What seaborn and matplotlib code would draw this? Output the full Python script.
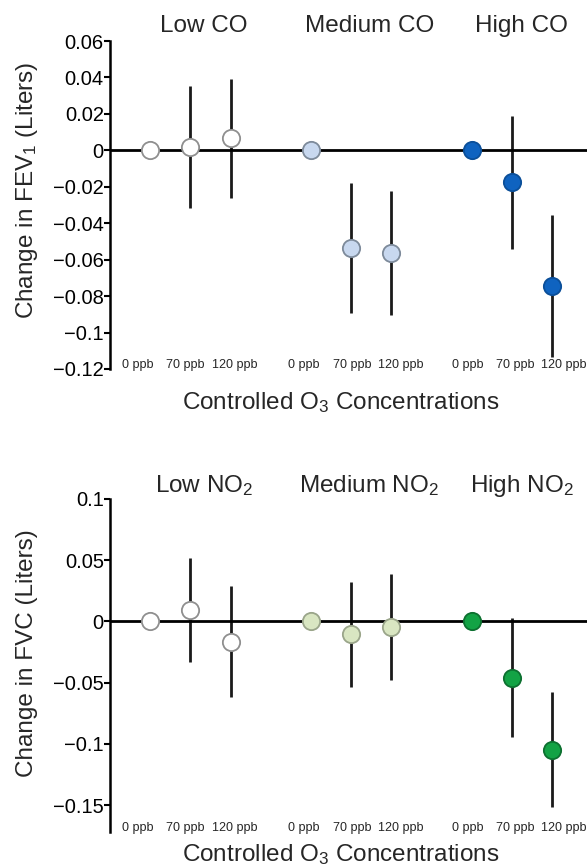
import numpy as np
import pandas as pd
import matplotlib
matplotlib.use("Agg")
import matplotlib.pyplot as plt
import matplotlib.transforms as mtransforms
import seaborn as sns

# ---------------- data ----------------
doses = ["0 ppb", "70 ppb", "120 ppb"]
levels = ["Low", "Medium", "High"]

fev1_mean = [0.0, 0.002, 0.0065, 0.0, -0.0535, -0.0565, 0.0, -0.0175, -0.0745]
fev1_err = [0.0, 0.0335, 0.0325, 0.0, 0.0355, 0.034, 0.0, 0.0365, 0.039]
fvc_mean = [0.0, 0.0095, -0.0165, 0.0, -0.0105, -0.0045, 0.0, -0.046, -0.105]
fvc_err = [0.0, 0.0425, 0.045, 0.0, 0.043, 0.0433, 0.0, 0.0485, 0.047]

fev1_titles = ["Low CO", "Medium CO", "High CO"]
fvc_titles = ["Low NO$_2$", "Medium NO$_2$", "High NO$_2$"]

fev1_yticks = [0.06, 0.04, 0.02, 0, -0.02, -0.04, -0.06, -0.08, -0.1, -0.12]
fev1_yticklabels = ["0.06", "0.04", "0.02", "0", "\u22120.02", "\u22120.04",
                    "\u22120.06", "\u22120.08", "\u22120.1", "\u22120.12"]
fvc_yticks = [0.1, 0.05, 0, -0.05, -0.1, -0.15]
fvc_yticklabels = ["0.1", "0.05", "0", "\u22120.05", "\u22120.1", "\u22120.15"]

fev1_face = ["#ffffff", "#c8d8ef", "#0f63c0"]
fev1_edge = ["#8f8f8f", "#7d8a9a", "#0b4f99"]
fvc_face = ["#ffffff", "#d9e6c2", "#13a345"]
fvc_edge = ["#8f8f8f", "#9aa58a", "#0d7030"]

# layout only: horizontal offsets of the dose tick labels (spread wider than the points)
label_offset = [-0.32, -0.13, 0.11, -0.19, 0.02, 0.24, -0.10, 0.09, 0.28]
title_x = [1.34, 5.45, 9.25]

# ---------------- style ----------------
sns.set_style("white")
plt.rcParams["font.family"] = ["Liberation Sans", "DejaVu Sans"]
plt.rcParams["mathtext.default"] = "regular"


def make_df(means, errs):
    rows = []
    for li, lev in enumerate(levels):
        for di, d in enumerate(doses):
            k = li * 3 + di
            rows.append(dict(level=lev, dose=d, pos=li * 4 + di,
                             mean=means[k], err=errs[k]))
    return pd.DataFrame(rows)


fig = plt.figure(figsize=(5.87, 8.67), dpi=100)
ax1 = fig.add_axes([0.1874, 0.5744, 0.8126, 0.3783])
ax2 = fig.add_axes([0.1874, 0.0404, 0.8126, 0.3841])

panels = [
    (ax1, make_df(fev1_mean, fev1_err), fev1_titles, fev1_face, fev1_edge,
     (-0.12, 0.06), fev1_yticks, fev1_yticklabels,
     "Change in FEV$_1$ (Liters)", 1.027, -0.122, 1 - 190 / 867),
    (ax2, make_df(fvc_mean, fvc_err), fvc_titles, fvc_face, fvc_edge,
     (-0.172, 0.1), fvc_yticks, fvc_yticklabels,
     "Change in FVC (Liters)", 1.021, -0.087, 1 - 653 / 867),
]

for (ax, df, titles, faces, edges, ylim, yt, ytl, ylab,
     ty, xly, yly) in panels:
    ax.axhline(0, color="black", lw=2.0, zorder=3)
    sub = df[df["err"] > 0]
    ax.errorbar(sub["pos"], sub["mean"], yerr=sub["err"], fmt="none",
                ecolor="#1a1a1a", elinewidth=2.0, capsize=0, zorder=2)
    for li, lev in enumerate(levels):
        s = df[df["level"] == lev]
        sns.scatterplot(data=s, x="pos", y="mean", color=faces[li],
                        edgecolor=edges[li], linewidth=1.3, s=155,
                        zorder=4, ax=ax, legend=False)
    ax.set_xlim(-1, 10.87)
    ax.set_ylim(*ylim)
    ax.set_yticks(yt)
    ax.set_yticklabels(ytl, fontsize=14.5)
    ax.set_xticks(df["pos"] + np.array(label_offset))
    ax.set_xticklabels(df["dose"], fontsize=9)
    ax.tick_params(axis="x", length=0, pad=-7)
    ax.tick_params(axis="y", direction="out", length=4, width=1.5, pad=0.5,
                   left=True, colors="black")
    for sp in ["top", "right", "bottom"]:
        ax.spines[sp].set_visible(False)
    ax.spines["left"].set_linewidth(1.8)
    ax.spines["left"].set_color("black")
    ax.set_xlabel("")
    ax.set_ylabel("")
    trans = mtransforms.blended_transform_factory(ax.transData, ax.transAxes)
    for tx, t in zip(title_x, titles):
        ax.text(tx, ty, t, transform=trans, ha="center", va="baseline",
                fontsize=17.5, clip_on=False)
    ax.text(0.484, xly, "Controlled O$_3$ Concentrations", transform=ax.transAxes,
            ha="center", va="baseline", fontsize=17.5, clip_on=False)
    fig.text(27 / 587, yly, ylab, rotation=90, ha="center", va="center",
             fontsize=17.5)

fig.savefig("out.png", dpi=100)
